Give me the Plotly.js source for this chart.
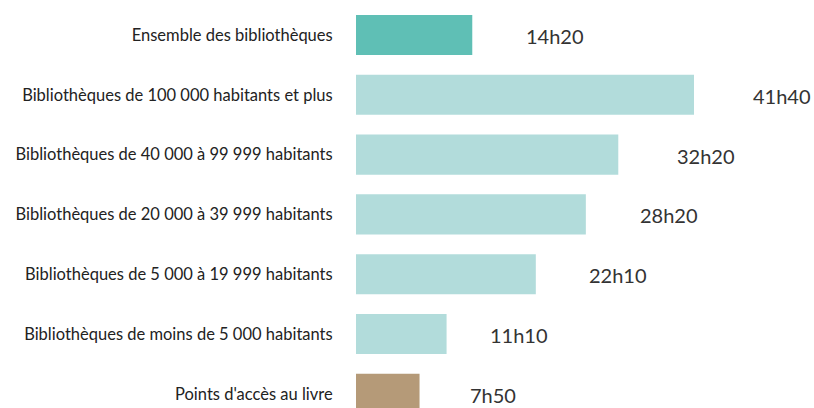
<!DOCTYPE html>
<html>
<head>
<meta charset="utf-8">
<script src="https://cdn.plot.ly/plotly-3.0.1.min.js"></script>
<style>html,body{margin:0;padding:0;background:#fff;}#chart{width:814px;height:408px;}</style>
</head>
<body>
<div id="chart"></div>
<script>
const categories = [
  "Ensemble des bibliothèques",
  "Bibliothèques de 100 000 habitants et plus",
  "Bibliothèques de 40 000 à 99 999 habitants",
  "Bibliothèques de 20 000 à 39 999 habitants",
  "Bibliothèques de 5 000 à 19 999 habitants",
  "Bibliothèques de moins de 5 000 habitants",
  "Points d'accès au livre"
];
const hours = [14, 41, 32, 28, 22, 11, 7];
const minutes = [20, 40, 20, 20, 10, 10, 50];
const valueLabels = ["14h20", "41h40", "32h20", "28h20", "22h10", "11h10", "7h50"];

// styling
const barColors = ["#5fbfb5", "#b2dcdb", "#b2dcdb", "#b2dcdb", "#b2dcdb", "#b2dcdb", "#b59a78"];
const labelGap = [52, 57, 57, 52, 51, 41, 48];

const values = hours.map((h, i) => h + minutes[i] / 60);

const trace = {
  type: "bar",
  orientation: "h",
  x: values,
  y: categories,
  marker: { color: barColors },
  hoverinfo: "none"
};

const annotations = values.map((v, i) => ({
  x: v, y: categories[i], xref: "x", yref: "y",
  text: valueLabels[i], showarrow: false,
  xanchor: "left", xshift: labelGap[i], yshift: -1,
  font: { family: "Lato", size: 20, color: "#333333" }
}));

const layout = {
  width: 814, height: 408,
  margin: { l: 356, r: 0, t: 0, b: 0, pad: 0 },
  paper_bgcolor: "#ffffff", plot_bgcolor: "#ffffff",
  showlegend: false,
  bargap: 0.33,
  xaxis: { range: [0, 56.46], showgrid: false, zeroline: false, showticklabels: false, showline: false, ticks: "" },
  yaxis: {
    type: "category", range: [6.237, -0.585], automargin: false,
    showgrid: false, zeroline: false, showline: false,
    ticks: "outside", ticklen: 19, tickcolor: "rgba(0,0,0,0)",
    tickfont: { family: "Lato", size: 16.5, color: "#222222" }
  },
  annotations: annotations
};

Plotly.newPlot("chart", [trace], layout, { displayModeBar: false, staticPlot: true });
</script>
</body>
</html>
